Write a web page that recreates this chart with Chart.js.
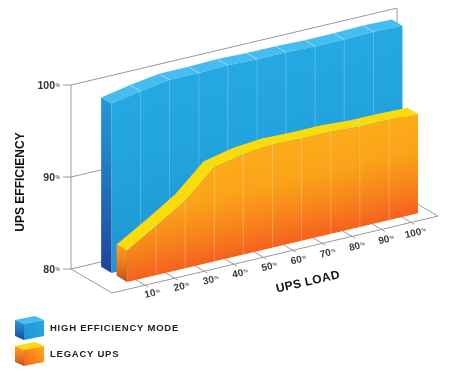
<!DOCTYPE html>
<html>
<head>
<meta charset="utf-8">
<style>html,body{margin:0;padding:0;background:#fff}canvas{display:block}</style>
<script src="https://cdn.jsdelivr.net/npm/chart.js@4"></script>
</head>
<body>
<canvas id="c" width="450" height="375"></canvas>
<script>
// --- data ---
const columnLoads = [7, 16.8, 26.6, 36.5, 46.3, 56.2, 66, 75.9, 85.7, 95.6, 105.4];
const highEfficiency = [98.4, 99.0, 99.5, 99.5, 99.6, 99.5, 99.5, 99.4, 99.4, 99.5, 99.4];
const legacyUps = [83.4, 85.3, 87.3, 90.2, 90.9, 91.2, 91.1, 91.1, 90.9, 90.9, 90.8];
const loadTicks = [10, 20, 30, 40, 50, 60, 70, 80, 90, 100];
const efficiencyTicks = [80, 90, 100];
const seriesNames = ['HIGH EFFICIENCY MODE', 'LEGACY UPS'];
const yTitle = 'UPS EFFICIENCY';
const xTitle = 'UPS LOAD';

// --- oblique projection of the library's scale pixels ---
const SHEAR = -0.236, DEPTH_X = 41, DEPTH_Y = 24, ANGLE = -13 * Math.PI / 180;
const FONT = '"Liberation Sans", Arial, sans-serif';
const looks = [
  { front: .40, back: .144, top: '#45bdf0', sep: 'rgba(255,255,255,.22)', sepTop: 'rgba(255,255,255,.28)',
    side: ['#2498d8', '#1f74bd', '#24409a'], face: [[0, '#1f95d3'], [.5, '#21a2dd'], [1, '#25a9e3']] },
  { front: .778, back: .52, top: '#fbdc08', sep: 'rgba(255,255,255,.26)', sepTop: 'rgba(255,255,255,.22)',
    side: ['#fb9f1a', '#f07a1c', '#bc4f28'], face: [[0, '#f4621d'], [.3, '#f8851b'], [.62, '#fba31a'], [1, '#fcac19']] }
];

function project(area, px, py, depth) {
  return [px + depth * DEPTH_X, py + SHEAR * (px - area.left) + depth * DEPTH_Y];
}
function poly(ctx, pts, fill) {
  ctx.beginPath();
  pts.forEach((p, i) => i ? ctx.lineTo(p[0], p[1]) : ctx.moveTo(p[0], p[1]));
  ctx.closePath();
  ctx.fillStyle = fill;
  ctx.fill();
}
function seg(ctx, a, b, color, width) {
  ctx.beginPath();
  ctx.moveTo(a[0], a[1]);
  ctx.lineTo(b[0], b[1]);
  ctx.strokeStyle = color;
  ctx.lineWidth = width || 1;
  ctx.stroke();
}

function drawAxes(chart) {
  const { ctx, chartArea: A, scales: { x, y } } = chart;
  const c = '#9a9a9a';
  const P = (lx, v, d) => project(A, x.getPixelForValue(lx), y.getPixelForValue(v), d);
  const xMin = x.min, xMax = x.max;
  ctx.save();
  seg(ctx, P(xMin, 80, 0), P(xMin, 100, 0), c);
  seg(ctx, P(xMin, 100, 0), P(xMax, 100, 0), c);
  seg(ctx, P(xMax, 100, 0), P(xMax, 80, 0), c);
  efficiencyTicks.forEach(v => {
    const p = P(xMin, v, 0);
    seg(ctx, [p[0] - 8, p[1]], p, c);
    if (v < 100) seg(ctx, p, P(xMax, v, 0), c);
  });
  seg(ctx, P(xMin, 80, 0), P(xMin, 80, 1), c);
  seg(ctx, P(xMin, 80, 1), P(xMax, 80, 1), c);
  seg(ctx, P(xMax, 80, 1), P(xMax, 80, 0), c);
  loadTicks.forEach(l => seg(ctx, P(l, 80, 1.08), P(l, 80, .72), c));
  ctx.restore();
}

function drawSeries(chart, i) {
  const { ctx, chartArea: A, scales: { y } } = chart;
  const L = looks[i], pts = chart.getDatasetMeta(i).data;
  const base = y.getPixelForValue(80);
  const n = pts.length;
  const F = (p, d) => project(A, p.x, p.y, d);
  const B = (p, d) => project(A, p.x, base, d);
  const sideG = ctx.createLinearGradient(0, F(pts[0], L.back)[1], 0, B(pts[0], L.front)[1]);
  L.side.forEach((col, k) => sideG.addColorStop(k / (L.side.length - 1), col));
  poly(ctx, [F(pts[0], L.back), F(pts[0], L.front), B(pts[0], L.front), B(pts[0], L.back)], sideG);
  for (let j = 0; j < n - 1; j++) {
    poly(ctx, [F(pts[j], L.back), F(pts[j + 1], L.back), F(pts[j + 1], L.front), F(pts[j], L.front)], L.top);
  }
  const off = L.front * DEPTH_X;
  ctx.save();
  ctx.transform(1, SHEAR, 0, 1, 0, -SHEAR * (A.left + off));
  const dy = L.front * DEPTH_Y;
  let topMost = Infinity;
  pts.forEach(p => { topMost = Math.min(topMost, p.y); });
  const g = ctx.createLinearGradient(0, base + dy, 0, topMost + dy);
  L.face.forEach(s => g.addColorStop(s[0], s[1]));
  const shape = pts.map(p => [p.x + off, p.y + dy]);
  shape.push([pts[n - 1].x + off, base + dy], [pts[0].x + off, base + dy]);
  poly(ctx, shape, g);
  ctx.restore();
  for (let j = 1; j < n - 1; j++) {
    seg(ctx, F(pts[j], L.front), B(pts[j], L.front), L.sep, 1);
    seg(ctx, F(pts[j], L.back), F(pts[j], L.front), L.sepTop, 1);
  }
}

function drawTexts(chart) {
  const { ctx, chartArea: A, scales: { x, y } } = chart;
  ctx.save();
  ctx.textBaseline = 'middle';
  efficiencyTicks.forEach(v => {
    const py = y.getPixelForValue(v);
    const p = project(A, x.getPixelForValue(x.min), py, 0);
    ctx.textAlign = 'right';
    ctx.fillStyle = '#333';
    ctx.font = 'bold 10.5px ' + FONT;
    ctx.fillText(String(v), p[0] - 16, p[1] + 1);
    ctx.textAlign = 'left';
    ctx.font = 'bold 5px ' + FONT;
    ctx.fillStyle = '#666';
    ctx.fillText('%', p[0] - 15.5, p[1] + 1);
  });
  loadTicks.forEach(l => {
    const p = project(A, x.getPixelForValue(l), y.getPixelForValue(80), 1);
    const t = (l - 10) / 90;
    ctx.save();
    ctx.translate(p[0] + 7 - 3 * t, p[1] + 8.5 + 2.3 * t);
    ctx.rotate(ANGLE);
    const num = String(l);
    ctx.font = 'bold 10px ' + FONT;
    const w = ctx.measureText(num).width;
    ctx.textAlign = 'left';
    ctx.fillStyle = '#3a3a3a';
    ctx.fillText(num, -(w + 4) / 2, 0);
    ctx.font = 'bold 5px ' + FONT;
    ctx.fillStyle = '#666';
    ctx.fillText('%', (w - 4) / 2 + .5, -1);
    ctx.restore();
  });
  ctx.fillStyle = '#111';
  ctx.textAlign = 'center';
  ctx.font = 'bold 12px ' + FONT;
  ctx.save();
  ctx.translate(20.5, 182);
  ctx.rotate(-Math.PI / 2);
  ctx.fillText(yTitle, 0, 0);
  ctx.restore();
  ctx.save();
  ctx.translate(308, 282);
  ctx.rotate(ANGLE);
  ctx.letterSpacing = '0.4px';
  ctx.fillText(xTitle, 0, 0);
  ctx.restore();
  ctx.restore();
}

function drawLegend(chart) {
  const { ctx } = chart;
  const cube = (oy, L) => {
    poly(ctx, [[15, oy + 4], [35, oy], [44, oy + 4], [24, oy + 8]], L.top);
    const s = ctx.createLinearGradient(0, oy + 4, 0, oy + 24);
    L.side.forEach((col, k) => s.addColorStop(k / (L.side.length - 1), col));
    poly(ctx, [[15, oy + 4], [24, oy + 8], [24, oy + 24], [15, oy + 20]], s);
    const f = ctx.createLinearGradient(24, oy + 24, 44, oy + 6);
    f.addColorStop(0, L.face[0][1]);
    f.addColorStop(1, L.face[L.face.length - 1][1]);
    poly(ctx, [[24, oy + 8], [44, oy + 4], [44, oy + 20], [24, oy + 24]], f);
  };
  cube(316, looks[0]);
  cube(342, looks[1]);
  ctx.save();
  ctx.fillStyle = '#222';
  ctx.font = 'bold 9.5px ' + FONT;
  ctx.letterSpacing = '0.75px';
  ctx.textAlign = 'left';
  ctx.textBaseline = 'middle';
  ctx.fillText(seriesNames[0], 50, 328);
  ctx.fillText(seriesNames[1], 50, 354);
  ctx.restore();
}

const prism = {
  id: 'prism',
  beforeDatasetsDraw(chart) {
    drawAxes(chart);
    drawSeries(chart, 0);
    drawSeries(chart, 1);
    drawTexts(chart);
    drawLegend(chart);
  }
};

new Chart(document.getElementById('c'), {
  type: 'line',
  data: {
    datasets: [
      { label: seriesNames[0], data: columnLoads.map((l, i) => ({ x: l, y: highEfficiency[i] })), showLine: false, pointRadius: 0, hoverRadius: 0 },
      { label: seriesNames[1], data: columnLoads.map((l, i) => ({ x: l, y: legacyUps[i] })), showLine: false, pointRadius: 0, hoverRadius: 0 }
    ]
  },
  plugins: [prism],
  options: {
    responsive: false,
    animation: false,
    events: [],
    layout: { padding: { left: 71, right: 53, top: 85, bottom: 106 } },
    plugins: { legend: { display: false }, tooltip: { enabled: false }, title: { display: false } },
    scales: {
      x: { type: 'linear', display: false, min: -1.2, max: 109.1 },
      y: { type: 'linear', display: false, min: 80, max: 100 }
    }
  }
});
</script>
</body>
</html>
